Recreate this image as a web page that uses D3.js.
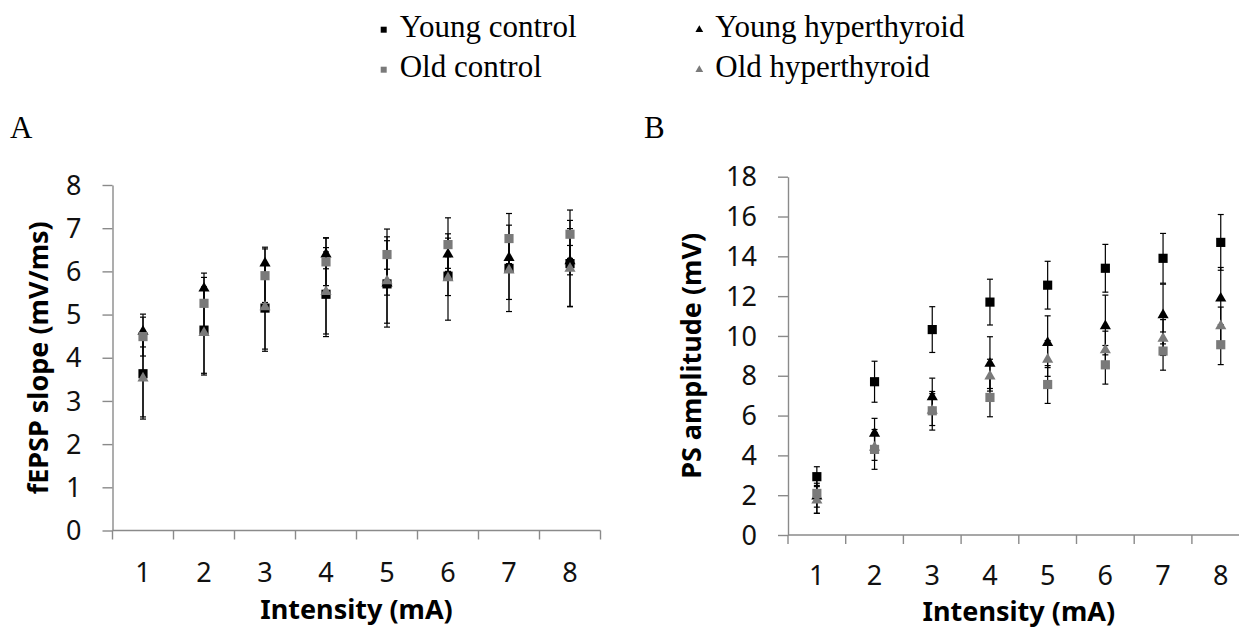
<!DOCTYPE html>
<html lang="en">
<head>
<meta charset="UTF-8">
<title>fEPSP slope and PS amplitude vs intensity</title>
<script src="https://d3js.org/d3.v7.min.js"></script>
<style>
    body { margin: 0; background: #fff; }
    svg { display: block; }
    .tick-label { font-family: "Noto Sans", "Open Sans", sans-serif; font-size: 27px; fill: #111; }
    .axis-title { font-family: "Noto Sans", "Open Sans", sans-serif; font-size: 27px; font-weight: bold; fill: #000; }
    .legend-text, .panel-label { font-family: "Liberation Serif", "DejaVu Serif", serif; fill: #000; }
</style>
</head>
<body>
<svg id="chart" width="1239" height="628"></svg>
<script>
    // categories (stimulus intensity, mA)
    const intensities = ["1", "2", "3", "4", "5", "6", "7", "8"];

    const seriesNames = ["Young control", "Young hyperthyroid", "Old control", "Old hyperthyroid"];
    const seriesColors = ["#000000", "#000000", "#7a7a7a", "#7a7a7a"];
    const seriesShapes = ["square", "triangle", "square", "triangle"];

    // Panel A: fEPSP slope (mV/ms), mean and error
    const slopeYoungControl = [3.63, 4.64, 5.15, 5.47, 5.71, 5.89, 6.07, 6.18];
    const slopeYoungControlErr = [1.0, 1.0, 1.0, 0.98, 1.0, 0.45, 1.0, 1.0];
    const slopeYoungHyper = [4.63, 5.63, 6.21, 6.42, 5.75, 6.42, 6.34, 6.26];
    const slopeYoungHyperErr = [0.38, 0.33, 0.35, 0.36, 0.3, 0.35, 0.35, 0.34];
    const slopeOldControl = [4.49, 5.26, 5.9, 6.22, 6.39, 6.62, 6.76, 6.86];
    const slopeOldControlErr = [0.45, 0.6, 0.62, 0.55, 0.59, 0.62, 0.58, 0.56];
    const slopeOldHyper = [3.55, 4.6, 5.2, 5.55, 5.8, 5.87, 6.05, 6.09];
    const slopeOldHyperErr = [0.97, 1.0, 1.0, 1.0, 1.0, 1.0, 0.7, 0.9];

    // Panel B: PS amplitude (mV), mean and error
    const psYoungControl = [2.93, 7.7, 10.32, 11.7, 12.55, 13.4, 13.9, 14.7];
    const psYoungControlErr = [0.5, 1.03, 1.15, 1.15, 1.2, 1.2, 1.25, 1.4];
    const psYoungHyper = [2.0, 5.15, 6.98, 8.66, 9.71, 10.55, 11.1, 11.94];
    const psYoungHyperErr = [0.6, 0.71, 0.9, 1.3, 1.3, 1.5, 1.5, 1.5];
    const psOldControl = [2.09, 4.3, 6.24, 6.91, 7.56, 8.55, 9.24, 9.56];
    const psOldControlErr = [1.0, 1.0, 0.97, 0.97, 0.95, 0.97, 0.96, 1.0];
    const psOldHyper = [1.79, 4.45, 6.3, 8.03, 8.87, 9.34, 9.92, 10.55];
    const psOldHyperErr = [0.7, 0.7, 0.8, 0.8, 0.9, 0.9, 0.9, 0.9];

    const slopeTicks = [0, 1, 2, 3, 4, 5, 6, 7, 8];
    const psTicks = [0, 2, 4, 6, 8, 10, 12, 14, 16, 18];

    const svg = d3.select("#chart");
    const AXIS_COLOR = "#8a8a8a";

    function drawPanel(opt) {
        const g = svg.append("g");
        const x = d3.scaleBand().domain(intensities).range([opt.left, opt.right]);
        const y = d3.scaleLinear().domain(opt.domain).range([opt.bottom, opt.top]);

        // y axis
        const yAxis = d3.axisLeft(y).tickValues(opt.ticks).tickSize(10).tickSizeOuter(0).tickFormat("");
        g.append("g").attr("transform", `translate(${opt.left},0)`).call(yAxis);

        // x axis, ticks at category boundaries
        g.append("line")
            .attr("x1", opt.left).attr("x2", opt.right)
            .attr("y1", y(0)).attr("y2", y(0));
        const bounds = intensities.map(d => x(d)).concat([x(intensities[intensities.length - 1]) + x.bandwidth()]);
        g.selectAll(".xtick").data(bounds).join("line")
            .attr("class", "xtick")
            .attr("x1", d => d).attr("x2", d => d)
            .attr("y1", y(0)).attr("y2", y(0) + 9);
        g.selectAll("line, path.domain")
            .attr("stroke", AXIS_COLOR).attr("stroke-width", 1.4);

        // tick labels
        g.selectAll(".ylab").data(opt.ticks).join("text")
            .attr("class", "tick-label")
            .attr("x", opt.left - 31).attr("y", d => y(d))
            .attr("dy", "0.36em").attr("text-anchor", "end")
            .text(d => d);
        g.selectAll(".xlab").data(intensities).join("text")
            .attr("class", "tick-label")
            .attr("x", d => x(d) + x.bandwidth() / 2).attr("y", opt.xLabelY)
            .attr("text-anchor", "middle")
            .text(d => d);

        // titles
        g.append("text").attr("class", "axis-title")
            .attr("x", (opt.left + opt.right) / 2).attr("y", opt.xTitleY)
            .attr("text-anchor", "middle").text("Intensity (mA)");
        g.append("text").attr("class", "axis-title")
            .attr("transform", `translate(${opt.yTitleX},${(opt.top + opt.bottom) / 2}) rotate(-90)`)
            .attr("text-anchor", "middle").text(opt.yTitle);

        // error bars then markers, series in legend order
        opt.series.forEach((s) => {
            const pts = s.values.map((v, j) => ({ cx: x(intensities[j]) + x.bandwidth() / 2, v: v, e: s.errs[j] }));
            const eb = g.append("g").attr("stroke", "#000").attr("stroke-width", 1.2);
            pts.forEach(p => {
                eb.append("line").attr("x1", p.cx).attr("x2", p.cx).attr("y1", y(p.v - p.e)).attr("y2", y(p.v + p.e));
                eb.append("line").attr("x1", p.cx - 3).attr("x2", p.cx + 3).attr("y1", y(p.v + p.e)).attr("y2", y(p.v + p.e));
                eb.append("line").attr("x1", p.cx - 3).attr("x2", p.cx + 3).attr("y1", y(p.v - p.e)).attr("y2", y(p.v - p.e));
            });
        });
        opt.series.forEach((s, i) => {
            const sym = d3.symbol().type(seriesShapes[i] === "square" ? d3.symbolSquare : d3.symbolTriangle)
                .size(seriesShapes[i] === "square" ? 84 : 54);
            g.append("g").selectAll("path")
                .data(s.values)
                .join("path")
                .attr("d", sym)
                .attr("fill", seriesColors[i])
                .attr("transform", (v, j) => `translate(${x(intensities[j]) + x.bandwidth() / 2},${y(v) + (seriesShapes[i] === "triangle" ? 1 : 0)})`);
        });
    }

    drawPanel({
        left: 112.5, right: 600.5, top: 185, bottom: 530.5,
        domain: [0, 8], ticks: slopeTicks, xLabelY: 582, xTitleY: 619,
        yTitleX: 48, yTitle: "fEPSP slope (mV/ms)",
        series: [
            { values: slopeYoungControl, errs: slopeYoungControlErr },
            { values: slopeYoungHyper, errs: slopeYoungHyperErr },
            { values: slopeOldControl, errs: slopeOldControlErr },
            { values: slopeOldHyper, errs: slopeOldHyperErr }
        ]
    });

    drawPanel({
        left: 788, right: 1249.6, top: 176.7, bottom: 535,
        domain: [0, 18], ticks: psTicks, xLabelY: 585, xTitleY: 621,
        yTitleX: 701, yTitle: "PS amplitude (mV)",
        series: [
            { values: psYoungControl, errs: psYoungControlErr },
            { values: psYoungHyper, errs: psYoungHyperErr },
            { values: psOldControl, errs: psOldControlErr },
            { values: psOldHyper, errs: psOldHyperErr }
        ]
    });

    // panel letters
    svg.append("text").attr("class", "panel-label").attr("x", 10).attr("y", 138).attr("font-size", 31).text("A");
    svg.append("text").attr("class", "panel-label").attr("x", 644).attr("y", 138).attr("font-size", 31).text("B");

    // legend, two columns
    const legendX = [383.7, 699.3];
    const legendY = [36.7, 76.7];
    seriesNames.forEach((name, i) => {
        const col = i % 2, row = Math.floor(i / 2);
        const lg = svg.append("g").attr("transform", `translate(${legendX[col]},${legendY[row]})`);
        const sym = d3.symbol().type(seriesShapes[i] === "square" ? d3.symbolSquare : d3.symbolTriangle)
            .size(seriesShapes[i] === "square" ? 36 : 26);
        lg.append("path").attr("d", sym).attr("fill", seriesColors[i]).attr("transform", "translate(0,-7)");
        lg.append("text").attr("class", "legend-text").attr("x", 16).attr("y", 0)
            .attr("font-size", 31).text(name);
    });
</script>
</body>
</html>
